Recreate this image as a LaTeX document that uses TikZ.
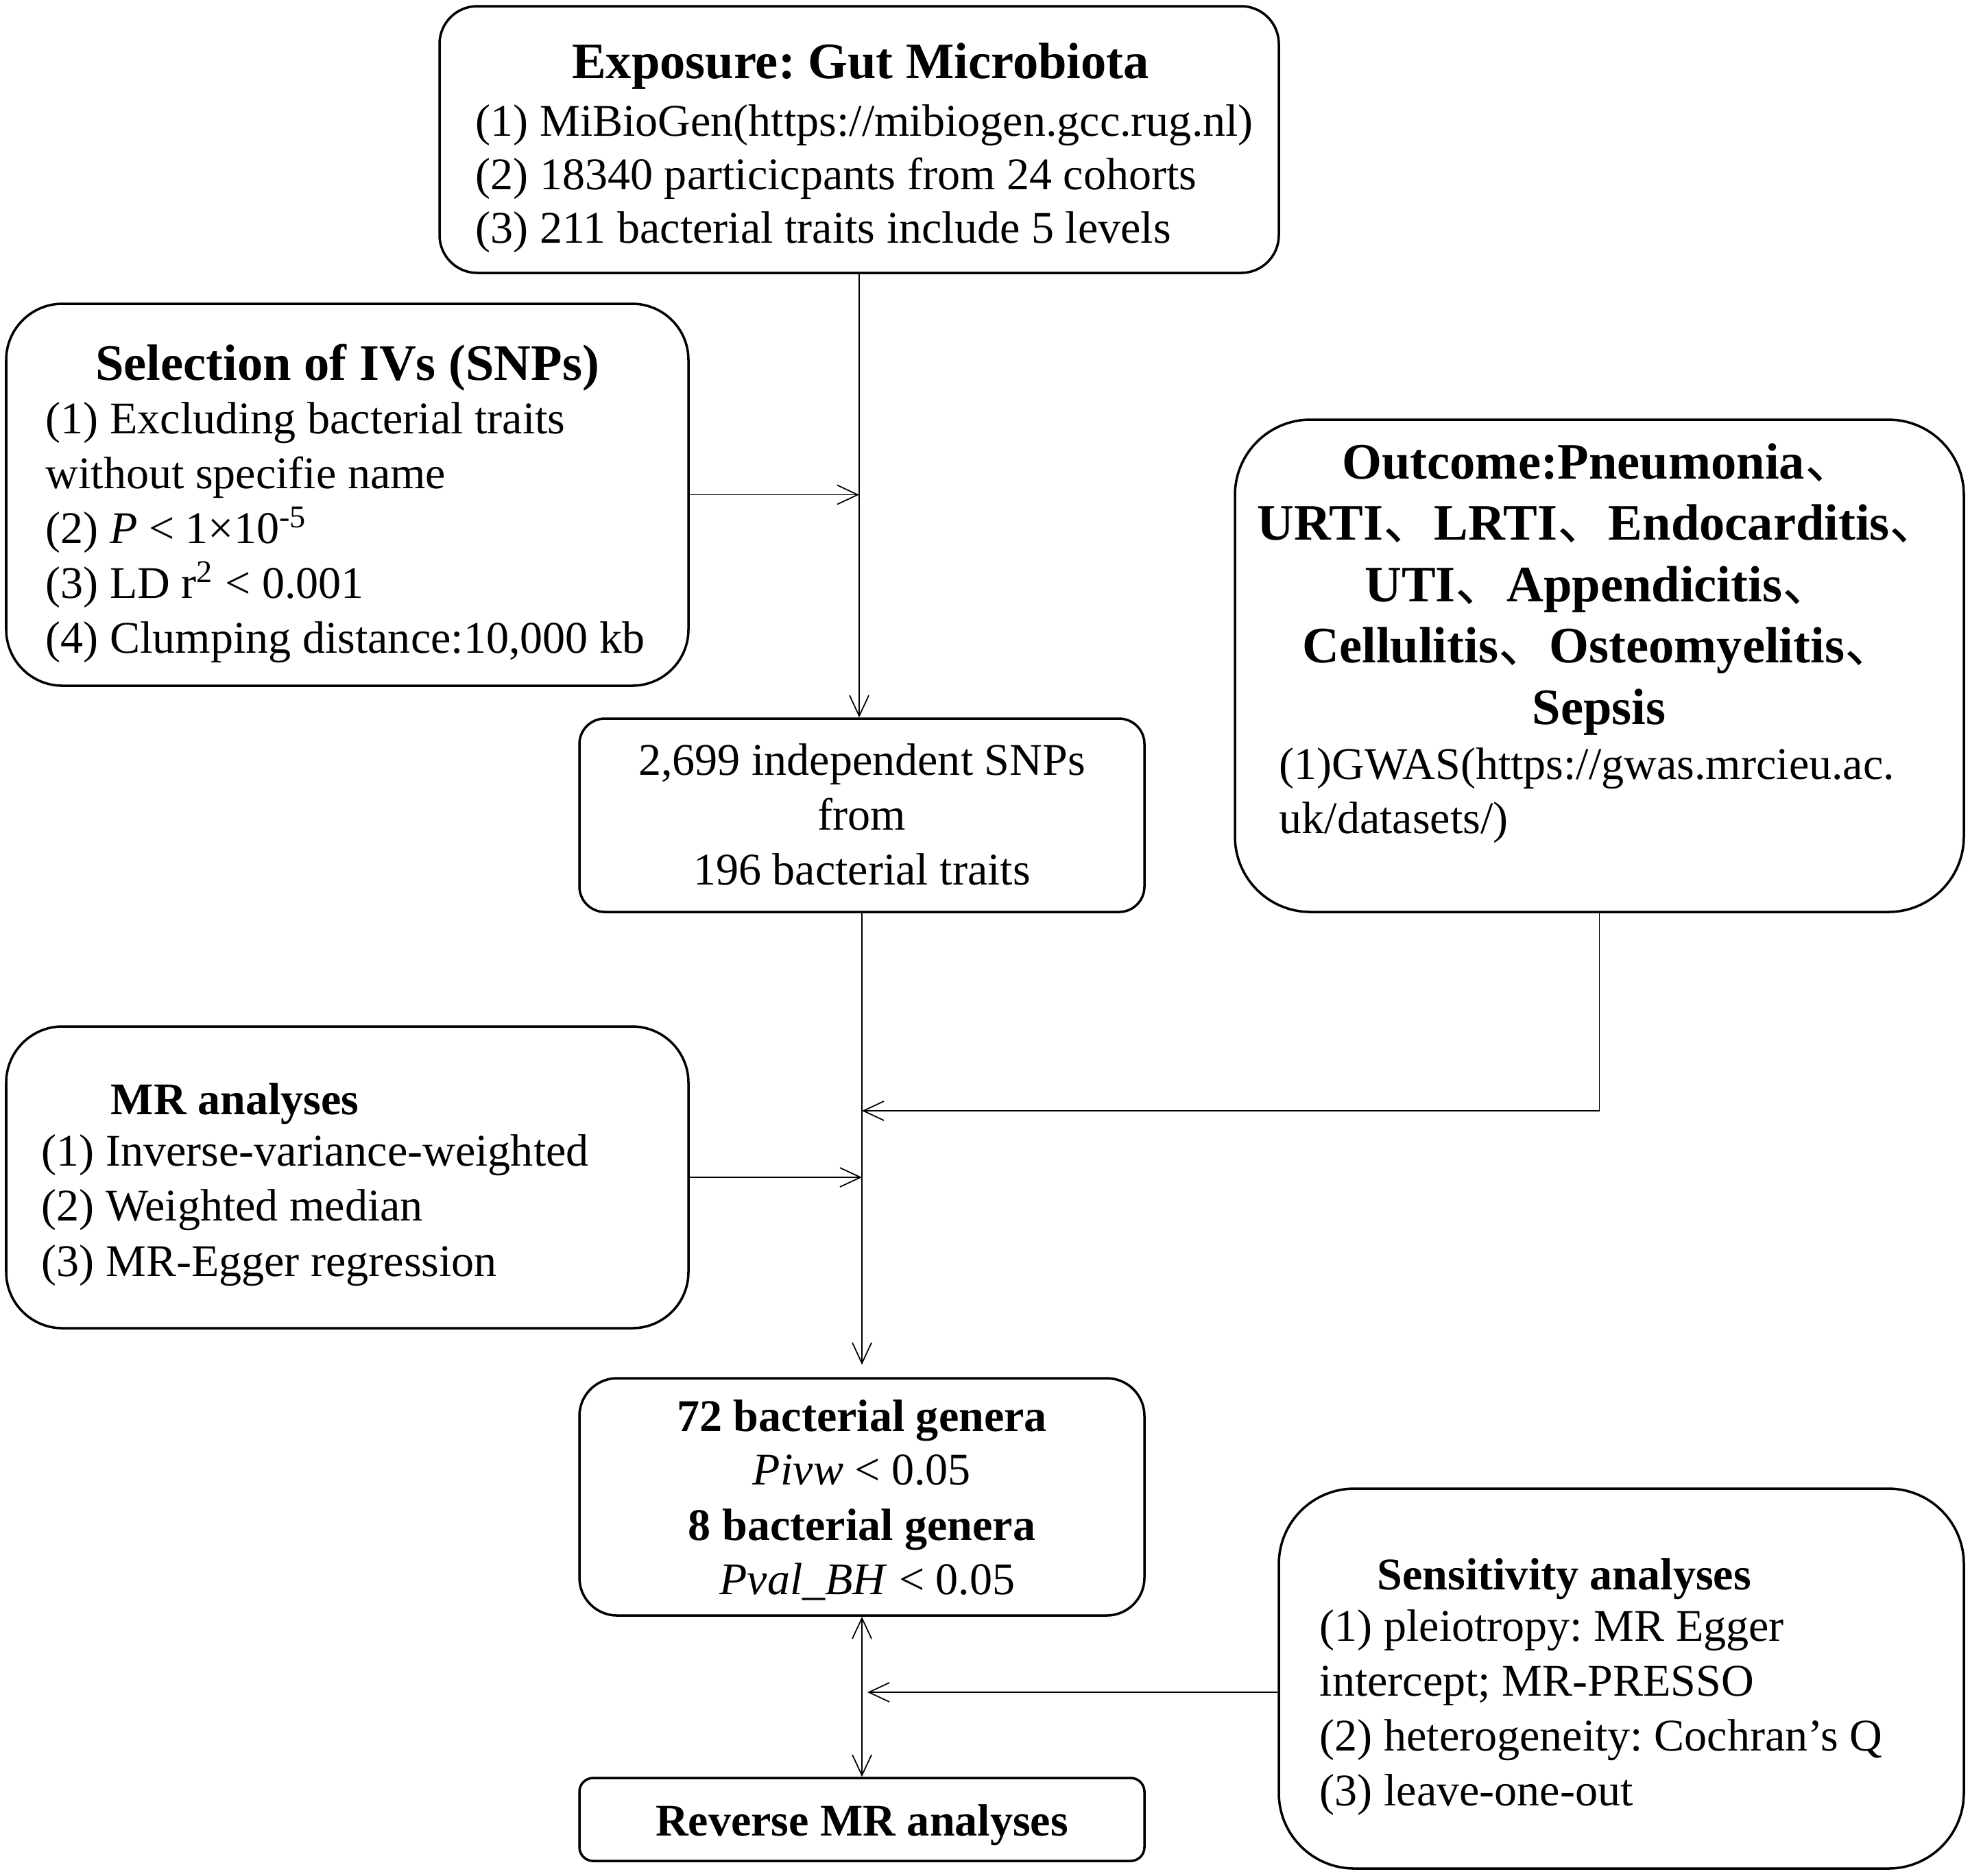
\documentclass[tikz,border=0pt]{standalone}
\usepackage{fontspec}
\setmainfont{Liberation Serif}
\newfontfamily\cjkfont{Noto Sans CJK SC}
\usetikzlibrary{arrows.meta}
\frenchspacing
\newcommand\bodysize{\fontsize{18.8}{22.5}\selectfont}
\newcommand\headsize{\fontsize{21.2}{25.5}\selectfont\bfseries}
\newcommand\dun{{\cjkfont\mdseries 、}}
\tikzset{
  stage/.style={draw, line width=1pt, inner sep=0pt},
  item/.style={anchor=base west, inner sep=0pt, font=\bodysize},
  mid/.style={anchor=base, inner sep=0pt, font=\bodysize},
  conn/.style={line width=0.5pt, >={Straight Barb[length=0.3cm,width=0.28cm]}}
}
\begin{document}
\begin{tikzpicture}
  \useasboundingbox (0,0) rectangle (28.73,-27.35);
  % boxes
  \node[stage, rounded corners=0.55cm, minimum width=12.24cm, minimum height=3.89cm] (expo) at (12.53,-2.035) {};
  \node[stage, rounded corners=0.82cm, minimum width=9.95cm, minimum height=5.57cm] (sel) at (5.065,-7.215) {};
  \node[stage, rounded corners=1.1cm, minimum width=10.63cm, minimum height=7.18cm] (out) at (23.325,-9.71) {};
  \node[stage, rounded corners=0.37cm, minimum width=8.24cm, minimum height=2.82cm] (snps) at (12.57,-11.89) {};
  \node[stage, rounded corners=0.82cm, minimum width=9.95cm, minimum height=4.40cm] (mr) at (5.065,-17.17) {};
  \node[stage, rounded corners=0.55cm, minimum width=8.24cm, minimum height=3.46cm] (gen) at (12.57,-21.83) {};
  \node[stage, rounded corners=0.2cm, minimum width=8.24cm, minimum height=1.21cm] (rev) at (12.57,-26.535) {};
  \node[stage, rounded corners=1.1cm, minimum width=9.99cm, minimum height=5.54cm] (sens) at (23.645,-24.48) {};

  % exposure
  \node[mid, font=\headsize] (expo-t) at (12.55,-1.14) {Exposure: Gut Microbiota};
  \foreach \txt [count=\i from 0] in {{(1) MiBioGen(https://mibiogen.gcc.rug.nl)},
      {(2) 18340 particicpants from 24 cohorts},{(3) 211 bacterial traits include 5 levels}}
    \node[item] (expo-\i) at (6.93,-1.98-0.78*\i) {\txt};

  % selection of IVs
  \node[mid, font=\headsize] (sel-t) at (5.065,-5.54) {Selection of IVs (SNPs)};
  \foreach \txt [count=\i from 0] in {{(1) Excluding bacterial traits},{without specifie name},
      {(2) \textit{P} < 1×10\textsuperscript{-5}},{(3) LD r\textsuperscript{2} < 0.001},
      {(4) Clumping distance:10,000 kb}}
    \node[item] (sel-\i) at (0.66,-6.32-0.80*\i) {\txt};

  % outcome
  \foreach \txt [count=\i from 0] in {{Outcome:Pneumonia\dun},{URTI\dun LRTI\dun Endocarditis\dun},
      {UTI\dun Appendicitis\dun},{Cellulitis\dun Osteomyelitis\dun},{Sepsis}}
    \node[mid, font=\headsize] (out-\i) at (23.32,-6.98-0.895*\i) {\txt};
  \node[item] (out-g1) at (18.65,-11.36) {(1)GWAS(https://gwas.mrcieu.ac.};
  \node[item] (out-g2) at (18.65,-12.15) {uk/datasets/)};

  % independent SNPs
  \foreach \txt [count=\i from 0] in {{2,699 independent SNPs},{from},{196 bacterial traits}}
    \node[mid] (snps-\i) at (12.57,-11.30-0.80*\i) {\txt};

  % MR analyses
  \node[item, font=\bodysize\bfseries] (mr-t) at (1.61,-16.25) {MR analyses};
  \foreach \txt [count=\i from 0] in {{(1) Inverse-variance-weighted},{(2) Weighted median},
      {(3) MR-Egger regression}}
    \node[item] (mr-\i) at (0.60,-17.00-0.805*\i) {\txt};

  % results
  \node[mid, font=\bodysize\bfseries] (gen-1) at (12.57,-20.87) {72 bacterial genera};
  \node[mid] (gen-2) at (12.57,-21.65) {\textit{Pivw} < 0.05};
  \node[mid, font=\bodysize\bfseries] (gen-3) at (12.57,-22.46) {8 bacterial genera};
  \node[mid] (gen-4) at (12.65,-23.25) {\textit{Pval\_BH} < 0.05};
  \node[mid, font=\bodysize\bfseries] (rev-t) at (12.57,-26.77) {Reverse MR analyses};

  % sensitivity
  \node[item, font=\bodysize\bfseries] (sens-t) at (20.08,-23.18) {Sensitivity analyses};
  \foreach \txt [count=\i from 0] in {{(1) pleiotropy: MR Egger},{intercept; MR-PRESSO},
      {(2) heterogeneity: Cochran’s Q},{(3) leave-one-out}}
    \node[item] (sens-\i) at (19.24,-23.93-0.80*\i) {\txt};

  % connectors
  \coordinate (join) at (12.57,-16.20);
  \draw[conn, ->] (expo.south) -- (expo.south |- snps.north);
  \draw[conn, ->] (sel.east) -- (sel.east -| expo.south);
  \draw[conn, ->] (snps.south) -- ([yshift=0.18cm]gen.north);
  \draw[conn, ->] (out.south) |- (join);
  \draw[conn, ->] (mr.east) -- (mr.east -| snps.south);
  \draw[conn, <->] (gen.south) -- (rev.north);
  \draw[conn, ->] ([yshift=-0.2cm]sens.west) -- ([yshift=-0.2cm, xshift=0.08cm]sens.west -| gen.south);
\end{tikzpicture}
\end{document}
